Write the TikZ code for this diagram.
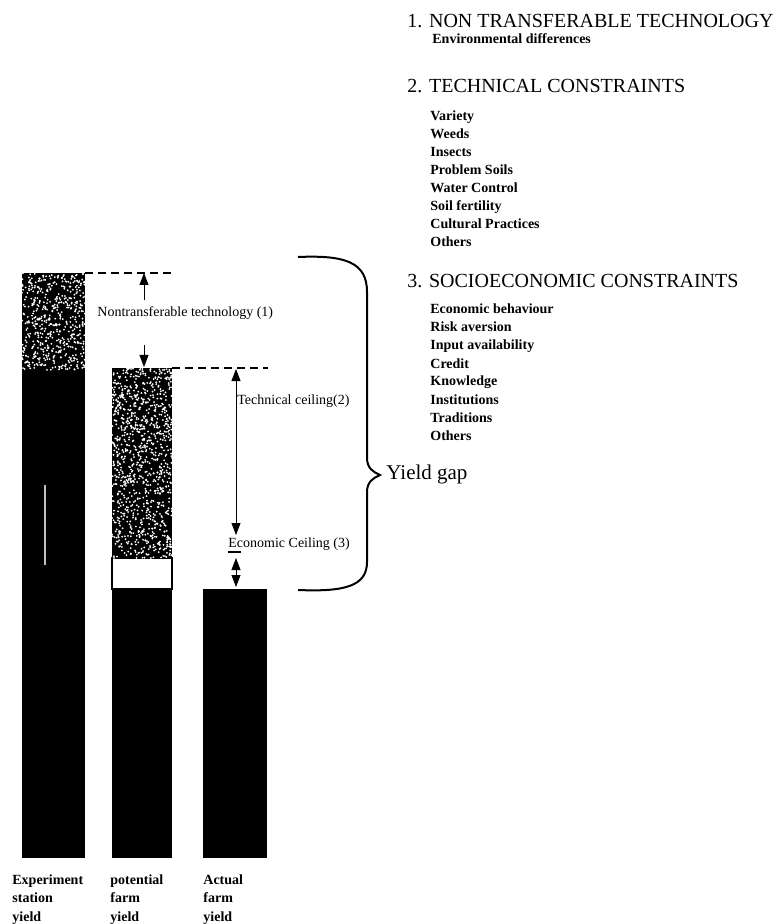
\documentclass[tikz,border=0pt]{standalone}
\usepackage{fontspec}
\setmainfont{Liberation Serif}
\usetikzlibrary{arrows.meta}

\begin{document}
\begin{tikzpicture}[x=0.5pt,y=-0.5pt,
head/.style={anchor=base west,inner sep=0pt,font=\fontsize{10}{12}\selectfont},
item/.style={anchor=base west,inner sep=0pt,font=\fontsize{7}{9}\selectfont\bfseries},
lbl/.style={anchor=base west,inner sep=0pt,font=\fontsize{7}{9}\selectfont},
foot/.style={anchor=north west,inner sep=0pt,align=left,font=\fontsize{7}{9.3}\selectfont\bfseries},
arrow/.style={-{Triangle[length=6pt,width=4.5pt]},thin},
twoway/.style={{Triangle[length=6pt,width=4.5pt]}-{Triangle[length=6pt,width=4.5pt]},thin},
gap/.style={dash pattern=on 4pt off 2.5pt,thick}]
\useasboundingbox (0,0) rectangle (780,924);
% bars
\fill (22,273) rectangle (85,858);
\fill (112,368) rectangle (172,558);
\draw[thick] (112,558) rectangle (172,589);
\fill (112,589) rectangle (172,858);
\fill (203,589) rectangle (267,858);
\draw[white!75!black,semithick] (45,485) -- (45,565);
% stipple
\pgfmathsetseed{17}
\foreach \i in {1,...,550}{\fill[white] ({22+63*rnd},{273+97*rnd}) circle (0.5pt);}
\foreach \i in {1,...,1050}{\fill[white] ({112+60*rnd},{368+190*rnd}) circle (0.5pt);}
% levels
\coordinate (exp) at (85,273);
\coordinate (pot) at (172,368);
\coordinate (eco) at (236,558);
\coordinate (act) at (236,587);
\draw[gap] (exp) -- (175,273);
\draw[gap] (pot) -- (268,368);
\coordinate (ntail) at (144,300);
\coordinate (nhead) at (144,273);
\draw[arrow] (ntail) -- (nhead);
\coordinate (ptail) at (144,345);
\coordinate (phead) at (144,367);
\draw[arrow] (ptail) -- (phead);
\coordinate (ttop) at (236,369);
\coordinate (tbot) at (236,535);
\draw[twoway] (ttop) -- (tbot);
\draw[twoway] (eco) -- (act);
\draw[thick] (228,552) -- (241,552);
\node[lbl] (ntl) at (97,317) {Nontransferable technology (1)};
\node[lbl] (tcl) at (237,404) {Technical ceiling(2)};
\node[lbl] (ecl) at (228,547) {Economic Ceiling (3)};
% brace
\draw[line width=1pt] (298,257) .. controls (345,255) and (367,262) .. (367,292)
  -- (367,458) .. controls (367,468) and (373,472) .. (380,475)
  .. controls (373,478) and (367,482) .. (367,492)
  -- (367,562) .. controls (367,586) and (345,592) .. (298,590);
\node[head,font=\fontsize{10.5}{12}\selectfont] (gap) at (386,479) {Yield gap};
% constraints
\node[head] (h1) at (407,28) {1. NON TRANSFERABLE TECHNOLOGY};
\node[item] (env) at (432,44) {Environmental differences};
\node[head] (h2) at (407,93) {2. TECHNICAL CONSTRAINTS};
\foreach \t [count=\k from 0] in {Variety,Weeds,Insects,Problem Soils,Water Control,Soil fertility,Cultural Practices,Others}
  \node[item] (tc\k) at (430,{121+18*\k}) {\t};
\node[head] (h3) at (407,288) {3. SOCIOECONOMIC CONSTRAINTS};
\foreach \t [count=\k from 0] in {Economic behaviour,Risk aversion,Input availability,Credit,Knowledge,Institutions,Traditions,Others}
  \node[item] (sc\k) at (430,{314+18*\k}) {\t};
% bar labels
\node[foot] (b1) at (12,874) {Experiment\\station\\yield};
\node[foot] (b2) at (110,874) {potential\\farm\\yield};
\node[foot] (b3) at (203,874) {Actual\\farm\\yield};
\end{tikzpicture}
\end{document}
